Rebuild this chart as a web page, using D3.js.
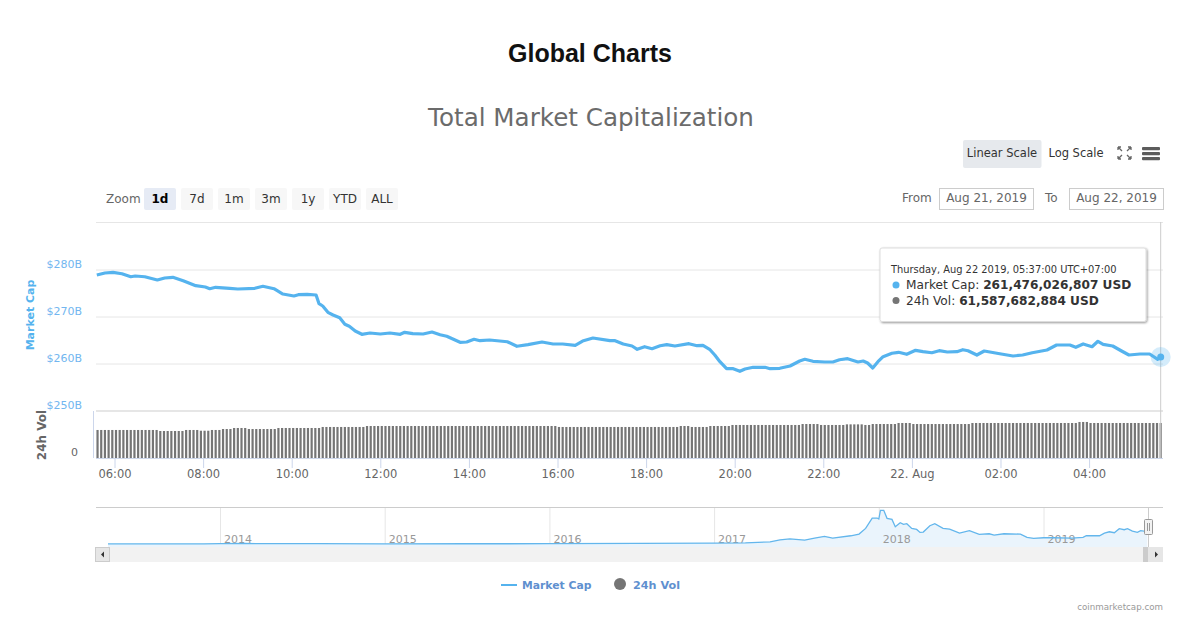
<!DOCTYPE html>
<html>
<head>
<meta charset="utf-8">
<script src="https://cdn.jsdelivr.net/npm/d3@7"></script>
<style>
  html, body { margin: 0; padding: 0; background: #fff; }
  svg { display: block; }
  text { font-family: "DejaVu Sans", sans-serif; }
</style>
</head>
<body>
<div id="chart"></div>
<script>
// minutes since Aug 21 00:00 (UTC+7)
var capMinutes = [336,347,358,370,382,388,401,418,428,439,453,470,483,489,497,516,527,550,561,576,588,603,609,621,633,637,642,649,656,665,672,678,686,695,706,720,733,747,753,764,778,790,801,810,828,837,847,855,868,892,905,920,939,954,967,984,994,1008,1031,1038,1049,1061,1068,1078,1088,1099,1108,1119,1138,1149,1157,1166,1173,1180,1189,1198,1207,1214,1225,1241,1248,1261,1275,1288,1295,1306,1322,1333,1342,1353,1367,1374,1380,1387,1394,1401,1413,1422,1433,1445,1455,1467,1477,1488,1501,1509,1516,1528,1538,1559,1577,1590,1603,1623,1636,1654,1662,1672,1684,1692,1699,1712,1724,1734,1749,1762,1773,1777];
// market cap, billions USD
var capValues = [278.94,279.36,279.51,279.21,278.57,278.72,278.57,277.87,278.30,278.45,277.72,276.66,276.38,276.02,276.32,276.11,275.96,276.11,276.53,276.02,274.89,274.47,274.74,274.83,274.68,272.83,272.34,271.00,270.43,269.85,268.45,268.02,267.02,266.32,266.60,266.38,266.60,266.32,266.74,266.45,266.38,266.81,266.23,265.89,264.62,264.68,265.26,264.96,265.11,264.74,263.77,264.11,264.68,264.26,264.26,263.98,264.89,265.53,264.96,264.96,264.26,263.83,263.13,263.68,263.26,263.89,264.11,263.83,264.32,263.89,263.98,263.13,261.91,260.49,259.00,259.00,258.45,258.94,259.30,259.30,259.00,259.09,259.57,260.64,261.00,260.57,260.43,260.43,260.91,261.13,260.43,260.64,260.21,259.15,260.49,261.55,262.28,262.49,262.06,262.91,262.62,262.40,262.83,262.55,262.62,263.04,262.83,261.91,262.77,262.19,261.70,261.91,262.40,262.98,264.04,264.04,263.55,264.26,263.68,264.83,264.19,263.83,262.77,261.91,262.13,262.13,261.00,261.48];
var capTicks = [250,260,270,280];
var capTickLabels = ['$250B','$260B','$270B','$280B'];

// 24h volume, billions USD, one bar every 5 minutes from 05:37
var volStart = 337;
var volStep = 5;
var volValues = [
  49.3,49.3,49.3,49.3,49.3,49.3,49.3,49.3,49.3,49.3,49.3,49.3,49.3,49.3,49.3,49.3,49.3,
  47.5,47.5,47.5,47.5,47.5,47.5,47.5,
  49.3,49.3,49.3,49.3,48.0,48.0,48.0,49.3,49.3,49.3,51.0,51.0,51.0,
  52.8,52.8,52.8,52.8,51.0,51.0,51.0,51.0,51.0,51.0,51.0,51.0,
  52.8,52.8,52.8,52.8,52.8,52.8,52.8,52.8,52.8,52.8,52.8,52.8,
  54.6,54.6,54.6,54.6,54.6,54.6,54.6,54.6,54.6,54.6,54.6,54.6,
  56.3,56.3,56.3,56.3,56.3,56.3,56.3,56.3,56.3,56.3,56.3,56.3,56.3,56.3,56.3,56.3,56.3,56.3,56.3,56.3,56.3,56.3,56.3,56.3,56.3,56.3,
  56.3,56.3,56.3,56.3,56.3,56.3,56.3,56.3,56.3,56.3,56.3,56.3,56.3,56.3,56.3,56.3,56.3,56.3,56.3,56.3,56.3,56.3,56.3,56.3,56.3,56.3,
  54.6,54.6,54.6,54.6,54.6,54.6,54.6,54.6,54.6,54.6,54.6,54.6,54.6,54.6,54.6,54.6,54.6,54.6,54.6,54.6,54.6,54.6,54.6,54.6,54.6,54.6,54.6,54.6,54.6,54.6,54.6,54.6,54.6,
  56.3,56.3,56.3,54.6,54.6,54.6,54.6,54.6,56.3,56.3,56.3,56.3,56.3,56.3,
  58.1,58.1,58.1,58.1,58.1,58.1,58.1,58.1,58.1,58.1,58.1,58.1,58.1,58.1,58.1,58.1,58.1,58.1,58.1,
  59.8,59.8,59.8,59.8,59.8,58.1,58.1,58.1,58.1,58.1,58.1,58.1,59.2,59.2,59.2,59.2,59.2,58.1,58.1,
  59.8,59.8,59.8,59.8,59.8,59.8,59.8,61.6,61.6,61.6,61.6,
  59.8,59.8,59.8,59.8,59.8,59.8,59.8,59.8,59.8,59.8,59.8,59.8,59.8,59.8,59.8,59.8,
  61.6,61.6,61.6,61.6,61.6,61.6,61.6,61.6,61.6,61.6,61.6,61.6,61.6,61.6,61.6,61.6,61.6,61.6,61.6,61.6,61.6,61.6,61.6,61.6,61.6,61.6,61.6,61.6,61.6,
  63.4,63.4,63.4,
  61.6,61.6,61.6,61.6,61.6,61.6,61.6,61.6,61.6,61.6,61.6,61.6,61.6,61.6,61.6,61.6,61.6,61.6,61.6,61.6
];

var timeTicks = [360,480,600,720,840,960,1080,1200,1320,1440,1560,1680];
var timeTickLabels = ['06:00','08:00','10:00','12:00','14:00','16:00','18:00','20:00','22:00','22. Aug','02:00','04:00'];

// navigator: whole history, decimal years and billions USD
var navYears = [2013.32,2013.9,2014.0,2014.15,2014.6,2015.0,2015.5,2016.0,2016.54,2017.0,2017.19,2017.34,2017.40,2017.46,2017.55,2017.61,2017.67,2017.72,2017.83,2017.88,2017.92,2017.96,2017.99,2018.0,2018.01,2018.03,2018.05,2018.08,2018.10,2018.13,2018.15,2018.17,2018.20,2018.23,2018.25,2018.27,2018.31,2018.34,2018.39,2018.43,2018.49,2018.55,2018.61,2018.67,2018.70,2018.76,2018.86,2018.90,2018.94,2019.0,2019.06,2019.17,2019.24,2019.26,2019.34,2019.37,2019.40,2019.43,2019.46,2019.49,2019.51,2019.54,2019.57,2019.59,2019.63];
var navValues = [2,5,10,12,7,5,6,7,13,21,29,54,103,127,95,144,185,144,201,242,381,634,634,610,822,822,626,601,422,520,479,495,381,356,283,291,446,495,381,364,266,324,234,250,217,250,242,160,136,152,152,144,160,201,201,266,299,275,373,348,373,315,283,324,300];
var navTicks = [2014,2015,2016,2017,2018,2019];

var zoomButtons = ['1d','7d','1m','3m','1y','YTD','ALL'];

var tooltipTitle = 'Thursday, Aug 22 2019, 05:37:00 UTC+07:00';
var tooltipCap = '261,476,026,807 USD';
var tooltipVol = '61,587,682,884 USD';

var capColor = '#55b3ee', volColor = '#757575', labelColor = '#666666';

var svg = d3.select('#chart').append('svg')
    .attr('width', 1196)
    .attr('height', 624);

var x = d3.scaleLinear().domain([336, 1777]).range([96.8, 1160.7]);
var capY = d3.scaleLinear().domain([250, 280]).range([411, 270]);
var volY = d3.scaleLinear().domain([0, 82.7]).range([458, 411]);
var navX = d3.scaleLinear().domain([2014, 2019]).range([220, 1043.5]);
var navY = d3.scaleLinear().domain([0, 830]).range([544, 510]);

function addText(str, px, py, size, color, opts) {
  opts = opts || {};
  return svg.append('text')
      .text(str)
      .attr('x', px)
      .attr('y', py)
      .attr('fill', color)
      .style('font-size', size + 'px')
      .style('font-weight', opts.weight || 'normal')
      .style('font-family', opts.family || null)
      .style('letter-spacing', opts.spacing || null)
      .style('text-anchor', opts.anchor || 'start');
}

// titles
addText('Global Charts', 590, 62, 25, '#111', { weight: 'bold', anchor: 'middle', family: '"Liberation Sans", sans-serif' });
addText('Total Market Capitalization', 591, 126, 24.6, '#6b6b6b', { anchor: 'middle' });

// scale buttons and icons
svg.append('rect').attr('x', 963).attr('y', 140).attr('width', 78.5).attr('height', 28).attr('rx', 2).attr('fill', '#e6e9ed');
addText('Linear Scale', 1002, 157, 11.5, '#333', { anchor: 'middle' });
addText('Log Scale', 1076, 157, 11.5, '#333', { anchor: 'middle' });

svg.append('g').selectAll('path')
    .data(['M1118,147l4,4 M1118,147h3 M1118,147v3', 'M1131,147l-4,4 M1131,147h-3 M1131,147v3', 'M1118,159l4,-4 M1118,159h3 M1118,159v-3', 'M1131,159l-4,-4 M1131,159h-3 M1131,159v-3'])
    .enter().append('path')
    .attr('d', function(d) { return d; })
    .attr('stroke', '#666')
    .attr('stroke-width', 1.3)
    .attr('fill', 'none');

svg.append('g').selectAll('rect')
    .data([147, 152, 157])
    .enter().append('rect')
    .attr('x', 1142).attr('y', function(d) { return d; })
    .attr('width', 18).attr('height', 3.3).attr('rx', 1)
    .attr('fill', '#5c5c5c');

// range selector
addText('Zoom', 106, 203, 12, labelColor);
var btn = svg.append('g').selectAll('g')
    .data(zoomButtons)
    .enter().append('g')
    .attr('transform', function(d, i) { return 'translate(' + (144 + i * 37) + ',188)'; });
btn.append('rect')
    .attr('width', 32).attr('height', 22).attr('rx', 2)
    .attr('fill', function(d, i) { return i === 0 ? '#e6ebf5' : '#f7f7f7'; });
btn.append('text')
    .text(function(d) { return d; })
    .attr('x', 16).attr('y', 14.5)
    .attr('fill', function(d, i) { return i === 0 ? '#000' : '#333'; })
    .style('font-size', '12px')
    .style('font-weight', function(d, i) { return i === 0 ? 'bold' : 'normal'; })
    .style('text-anchor', 'middle');

// date inputs
addText('From', 902, 202, 12, labelColor);
addText('To', 1045, 202, 12, labelColor);
svg.append('g').selectAll('g')
    .data([[939.5, 'Aug 21, 2019'], [1069.5, 'Aug 22, 2019']])
    .enter().append('g')
    .each(function(d) {
      var g = d3.select(this);
      g.append('rect').attr('x', d[0]).attr('y', 188.5).attr('width', 94).attr('height', 21)
          .attr('fill', '#fff').attr('stroke', '#ccc');
      g.append('text').text(d[1]).attr('x', d[0] + 47).attr('y', 202)
          .attr('fill', labelColor).style('font-size', '12px').style('text-anchor', 'middle');
    });

// grid
svg.append('line').attr('x1', 96).attr('x2', 1163).attr('y1', 222.5).attr('y2', 222.5).attr('stroke', '#e6e6e6');
svg.append('g').selectAll('line')
    .data(capTicks.slice(1))
    .enter().append('line')
    .attr('x1', 96).attr('x2', 1163)
    .attr('y1', function(d) { return capY(d); })
    .attr('y2', function(d) { return capY(d); })
    .attr('stroke', '#e6e6e6');
svg.append('line').attr('x1', 96).attr('x2', 1163).attr('y1', 411).attr('y2', 411).attr('stroke', '#e6e6e6').attr('stroke-width', 2);

// y labels
svg.append('g').selectAll('text')
    .data(capTicks)
    .enter().append('text')
    .text(function(d, i) { return capTickLabels[i]; })
    .attr('x', 82)
    .attr('y', function(d) { return capY(d) - 2; })
    .attr('fill', '#72b6f0')
    .style('font-size', '11px')
    .style('text-anchor', 'end');
addText('0', 78, 456, 11, labelColor, { anchor: 'end' });

svg.append('text').text('Market Cap')
    .attr('transform', 'translate(34,315)rotate(-90)')
    .attr('fill', capColor)
    .style('font-size', '11px').style('font-weight', 'bold').style('text-anchor', 'middle');
svg.append('text').text('24h Vol')
    .attr('transform', 'translate(46,435)rotate(-90)')
    .attr('fill', labelColor)
    .style('font-size', '12px').style('font-weight', 'bold').style('text-anchor', 'middle');

svg.append('line').attr('x1', 93.5).attr('x2', 93.5).attr('y1', 411).attr('y2', 458).attr('stroke', '#ccd6eb');

// volume bars
svg.append('g').selectAll('rect')
    .data(volValues)
    .enter().append('rect')
    .attr('x', function(d, i) { return x(volStart + i * volStep) - 1.1; })
    .attr('y', function(d) { return volY(d); })
    .attr('width', 2.2)
    .attr('height', function(d) { return volY(0) - volY(d); })
    .attr('fill', volColor);

// time axis
var xAxis = d3.axisBottom(x)
    .tickValues(timeTicks)
    .tickFormat(function(d, i) { return timeTickLabels[i]; })
    .tickSize(10)
    .tickPadding(2);
var xAxisG = svg.append('g').attr('transform', 'translate(0,458)').call(xAxis);
xAxisG.select('.domain').attr('stroke', '#ccd6eb').attr('d', 'M96,0.5H1163');
xAxisG.selectAll('.tick line').attr('stroke', '#ccd6eb');
xAxisG.selectAll('.tick text')
    .attr('fill', labelColor)
    .style('font-family', '"DejaVu Sans", sans-serif')
    .style('font-size', '11.5px');

// market cap line
var capLine = d3.line()
    .x(function(d, i) { return x(capMinutes[i]); })
    .y(function(d) { return capY(d); });
svg.append('path')
    .datum(capValues)
    .attr('d', capLine)
    .attr('fill', 'none')
    .attr('stroke', capColor)
    .attr('stroke-width', 3.2)
    .attr('stroke-linejoin', 'round');

// crosshair and hover marker
var lastX = x(capMinutes[capMinutes.length - 1]);
var lastY = capY(capValues[capValues.length - 1]);
svg.append('line').attr('x1', lastX).attr('x2', lastX).attr('y1', 222).attr('y2', 458).attr('stroke', '#cccccc');
svg.append('circle').attr('cx', lastX).attr('cy', lastY).attr('r', 10).attr('fill', capColor).attr('opacity', 0.25);
svg.append('circle').attr('cx', lastX).attr('cy', lastY).attr('r', 3.5).attr('fill', capColor);

// tooltip
var defs = svg.append('defs');
var shadow = defs.append('filter').attr('id', 'tipShadow').attr('x', '-5%').attr('y', '-10%').attr('width', '110%').attr('height', '125%');
shadow.append('feDropShadow').attr('dx', 1).attr('dy', 1).attr('stdDeviation', 1.2).attr('flood-color', '#000').attr('flood-opacity', 0.4);
svg.append('rect').attr('x', 880).attr('y', 248).attr('width', 266).attr('height', 73.5).attr('rx', 2)
    .attr('fill', '#fff').attr('stroke', '#ddd').attr('filter', 'url(#tipShadow)');
addText(tooltipTitle, 891, 273, 9.9, '#333');
svg.append('circle').attr('cx', 896).attr('cy', 285).attr('r', 3.5).attr('fill', capColor);
svg.append('circle').attr('cx', 896).attr('cy', 300.5).attr('r', 3.5).attr('fill', volColor);
var capTip = addText('Market Cap: ', 906, 289, 12.15, '#333');
capTip.append('tspan').text(tooltipCap).style('font-weight', 'bold');
var volTip = addText('24h Vol: ', 906, 305, 12.15, '#333');
volTip.append('tspan').text(tooltipVol).style('font-weight', 'bold');

// navigator
svg.append('g').selectAll('line')
    .data(navTicks)
    .enter().append('line')
    .attr('x1', function(d) { return navX(d) + 0.5; })
    .attr('x2', function(d) { return navX(d) + 0.5; })
    .attr('y1', 507).attr('y2', 547)
    .attr('stroke', '#e6e6e6');
var navArea = d3.area()
    .x(function(d, i) { return navX(navYears[i]); })
    .y0(547)
    .y1(function(d) { return navY(d); });
var navLine = d3.line()
    .x(function(d, i) { return navX(navYears[i]); })
    .y(function(d) { return navY(d); });
svg.append('path').datum(navValues).attr('d', navArea).attr('fill', '#eaf4fc');
svg.append('g').selectAll('text')
    .data(navTicks)
    .enter().append('text')
    .text(function(d) { return d; })
    .attr('x', function(d) { return navX(d) + 4; })
    .attr('y', 543)
    .attr('fill', '#999')
    .style('font-size', '11px');
svg.append('path').datum(navValues).attr('d', navLine).attr('fill', 'none').attr('stroke', '#63b6ec').attr('stroke-width', 1.3);
svg.append('line').attr('x1', 96).attr('x2', 1163).attr('y1', 507.5).attr('y2', 507.5).attr('stroke', '#cccccc');
svg.append('line').attr('x1', 1148.5).attr('x2', 1148.5).attr('y1', 507).attr('y2', 547).attr('stroke', '#cccccc');

// scrollbar
svg.append('rect').attr('x', 95).attr('y', 547).attr('width', 1068).attr('height', 15).attr('fill', '#f2f2f2');
svg.append('rect').attr('x', 95.5).attr('y', 547.5).attr('width', 14).attr('height', 14).attr('fill', '#e6e6e6').attr('stroke', '#ccc');
svg.append('rect').attr('x', 1143).attr('y', 547).attr('width', 5).attr('height', 15).attr('fill', '#cccccc');
svg.append('rect').attr('x', 1148).attr('y', 547).attr('width', 15).attr('height', 15).attr('fill', '#e6e6e6');
svg.append('path').attr('d', 'M104,551.5v6l-3,-3z').attr('fill', '#333');
svg.append('path').attr('d', 'M1155,551.5v6l3,-3z').attr('fill', '#333');

// navigator handle
svg.append('rect').attr('x', 1144.5).attr('y', 519.5).attr('width', 8).attr('height', 15).attr('rx', 1).attr('fill', '#f2f2f2').attr('stroke', '#999');
svg.append('path').attr('d', 'M1147.5,523v8M1149.5,523v8').attr('stroke', '#999').attr('fill', 'none');

// legend
svg.append('line').attr('x1', 501).attr('x2', 517).attr('y1', 585).attr('y2', 585).attr('stroke', capColor).attr('stroke-width', 2);
addText('Market Cap', 522, 589, 10.8, '#5f90cf', { weight: 'bold' });
svg.append('circle').attr('cx', 620).attr('cy', 584).attr('r', 6).attr('fill', volColor);
addText('24h Vol', 633, 589, 11.2, '#5f90cf', { weight: 'bold' });

addText('coinmarketcap.com', 1163, 610, 8.7, '#999', { anchor: 'end' });
</script>
</body>
</html>
